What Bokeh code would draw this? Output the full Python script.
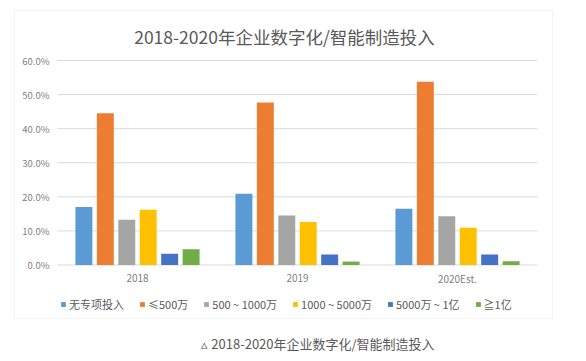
from bokeh.plotting import figure
from bokeh.models import (ColumnDataSource, Range1d, Legend, LegendItem, Label, BoxAnnotation)
from bokeh.core.properties import value
from bokeh.transform import dodge
from bokeh.embed import file_html
from bokeh.resources import INLINE

years = ["2018", "2019", "2020Est."]
series_names = ["无专项投入", "≤500万", "500 ~ 1000万", "1000 ~ 5000万", "5000万 ~ 1亿", "≧1亿"]
none_vals = [17.0, 20.9, 16.5]
lt500_vals = [44.5, 47.7, 53.8]
v500_1000 = [13.3, 14.5, 14.3]
v1000_5000 = [16.2, 12.6, 10.9]
v5000_1e8 = [3.3, 3.1, 3.1]
ge1e8_vals = [4.6, 1.0, 1.1]
y_ticks = [0, 10, 20, 30, 40, 50, 60]
title_text = "2018-2020年企业数字化/智能制造投入"
caption_text = "▵ 2018-2020年企业数字化/智能制造投入"

colors = ["#5B9BD5", "#ED7D31", "#A5A5A5", "#FFC000", "#4472C4", "#70AD47"]
series_vals = [none_vals, lt500_vals, v500_1000, v1000_5000, v5000_1e8, ge1e8_vals]
keys = ["s0", "s1", "s2", "s3", "s4", "s5"]

# category centres on a numeric axis: category i occupies [i, i+1]
xc = [i + 0.5 for i in range(len(years))]
data = {"year": years, "xc": xc}
for k, v in zip(keys, series_vals):
    data[k] = v
source = ColumnDataSource(data)

FONT = "Noto Sans CJK SC"
TXT = "#595959"
LBL = "#7F7F7F"

W, H = 578, 353
# pixel layout of the plotting area inside the canvas
PX_L, PX_R = 57.0, 537.0        # x = 0 .. 3
PX_Y0, PX_Y60 = 264.5, 60.0     # y = 0 .. 60
sx = (PX_R - PX_L) / 3.0
sy = (PX_Y0 - PX_Y60) / 60.0
x_start = -PX_L / sx
x_end = 3.0 + (W - PX_R) / sx
y_end = 60.0 + PX_Y60 / sy
y_start = -(H - PX_Y0) / sy

def cx(px):
    return (px - PX_L) / sx

def cy(py):
    return (PX_Y0 - py) / sy

p = figure(x_range=Range1d(x_start, x_end), y_range=Range1d(y_start, y_end),
           width=W, height=H, output_backend="svg", toolbar_location=None,
           x_axis_type=None, y_axis_type=None,
           min_border_left=0, min_border_right=0, min_border_top=0, min_border_bottom=0)
p.outline_line_color = None
p.background_fill_color = "white"
p.border_fill_color = "white"

# outer frame border
p.add_layout(BoxAnnotation(left=cx(14), right=cx(552), top=cy(10), bottom=cy(318),
                           fill_alpha=0, line_color="#D9D9D9", line_width=1))

# horizontal grid lines at the tick values
p.segment(x0=0, x1=len(years), y0=y_ticks, y1=y_ticks, line_color="#D9D9D9", line_width=1)

# y tick labels
p.text(x=0, y=y_ticks, text=["%.1f%%" % t for t in y_ticks], x_offset=-8,
       text_align="right", text_baseline="middle", text_font=value(FONT),
       text_font_size="9.5px", text_color=LBL)

# category labels
p.text(x=xc, y=0, text=years, y_offset=13, text_align="center", text_baseline="middle",
       text_font=value(FONT), text_font_size="10px", text_color=LBL)

pitch = 0.134
bw = 0.106
items = []
for i, (k, c, name) in enumerate(zip(keys, colors, series_names)):
    r = p.vbar(x=dodge("xc", (i - 2.5) * pitch), top=k, width=bw,
               source=source, fill_color=c, line_color=None)
    items.append(LegendItem(label=name, renderers=[r]))

legend = Legend(items=items, orientation="horizontal", location=(60, 41),
                glyph_width=6, glyph_height=6, label_standoff=3, spacing=15,
                label_text_font=FONT, label_text_font_size="11px", label_text_color=TXT,
                label_height=12, padding=5, margin=0,
                border_line_color=None, background_fill_alpha=0)
p.add_layout(legend, "center")

p.add_layout(Label(x=cx(284), y=cy(35.6), text=title_text, text_align="center",
                   text_baseline="middle", text_font=FONT, text_font_size="17.5px",
                   text_color=TXT))
p.add_layout(Label(x=cx(317.5), y=cy(342.7), text=caption_text, text_align="center",
                   text_baseline="middle", text_font=FONT, text_font_size="13px",
                   text_color=TXT))

open("out.html", "w").write(file_html(p, INLINE))
